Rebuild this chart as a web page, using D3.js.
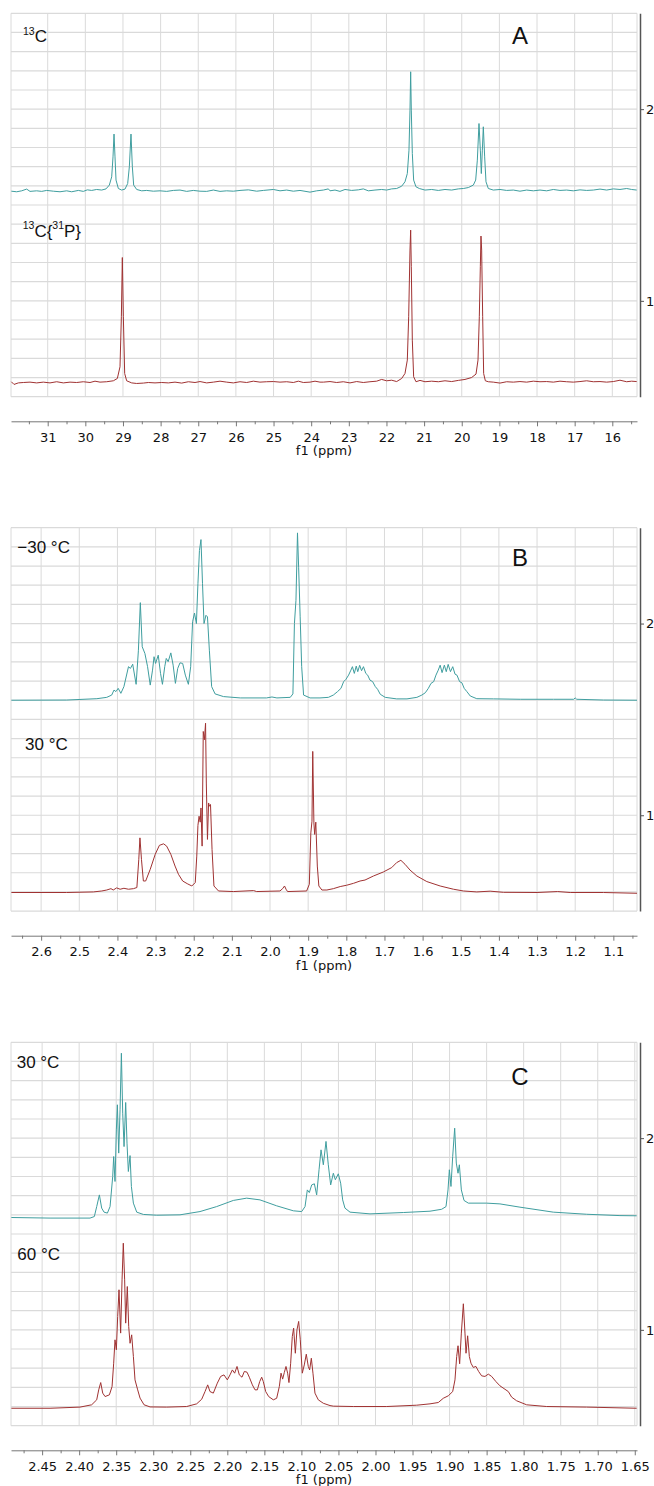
<!DOCTYPE html>
<html>
<head>
<meta charset="utf-8">
<script src="https://cdn.jsdelivr.net/npm/d3@7/dist/d3.min.js"></script>
<style>
  body { margin: 0; background: #fff; }
  svg { display: block; }
</style>
</head>
<body>
<svg id="chart" width="654" height="1486"></svg>
<script>
// ---------- Panel A: 13C and 13C{31P} spectra, [ppm, intensity] ----------
const aTicks = [31, 30, 29, 28, 27, 26, 25, 24, 23, 22, 21, 20, 19, 18, 17, 16];
const aDomain = [31.975, 15.344];

const a13C = [
  [31.966,1.572],[31.824,1.569],[31.691,1.574],[31.559,1.583],[31.470,1.571],[31.293,1.574],
  [31.160,1.571],[31.027,1.576],[30.850,1.572],[30.673,1.569],[30.496,1.574],[30.363,1.569],
  [30.186,1.576],[30.053,1.571],[29.947,1.579],[29.832,1.576],[29.699,1.581],[29.566,1.578],
  [29.451,1.584],[29.362,1.604],[29.300,1.647],[29.265,1.751],[29.238,1.870],[29.212,1.751],
  [29.185,1.630],[29.123,1.586],[29.035,1.578],[28.946,1.583],[28.875,1.612],[28.831,1.699],
  [28.787,1.870],[28.751,1.699],[28.716,1.604],[28.636,1.581],[28.503,1.574],[28.370,1.576],
  [28.193,1.572],[28.016,1.574],[27.839,1.571],[27.662,1.576],[27.485,1.578],[27.308,1.571],
  [27.131,1.576],[26.953,1.572],[26.776,1.571],[26.599,1.578],[26.422,1.571],[26.245,1.574],
  [26.068,1.572],[25.891,1.576],[25.669,1.579],[25.448,1.572],[25.271,1.576],[25.005,1.581],
  [24.828,1.574],[24.651,1.578],[24.474,1.572],[24.297,1.576],[24.031,1.567],[23.854,1.574],
  [23.677,1.578],[23.544,1.584],[23.500,1.574],[23.367,1.578],[23.235,1.571],[23.102,1.581],
  [22.925,1.576],[22.748,1.579],[22.615,1.584],[22.482,1.574],[22.305,1.578],[22.128,1.581],
  [21.995,1.578],[21.862,1.584],[21.729,1.586],[21.596,1.598],[21.508,1.621],[21.446,1.664],
  [21.402,1.786],[21.375,1.995],[21.357,2.195],[21.340,1.995],[21.313,1.769],[21.278,1.630],
  [21.216,1.595],[21.127,1.586],[20.977,1.578],[20.799,1.581],[20.622,1.576],[20.445,1.581],
  [20.268,1.578],[20.091,1.584],[19.958,1.586],[19.825,1.591],[19.692,1.604],[19.630,1.630],
  [19.586,1.734],[19.542,1.925],[19.506,1.786],[19.480,1.664],[19.453,1.786],[19.427,1.908],
  [19.391,1.751],[19.356,1.621],[19.294,1.586],[19.161,1.578],[18.984,1.581],[18.807,1.576],
  [18.630,1.578],[18.453,1.572],[18.275,1.578],[18.098,1.574],[17.921,1.578],[17.744,1.574],
  [17.567,1.581],[17.390,1.576],[17.213,1.578],[17.036,1.574],[16.859,1.579],[16.681,1.576],
  [16.504,1.578],[16.327,1.583],[16.150,1.578],[15.973,1.584],[15.796,1.581],[15.619,1.586],
  [15.486,1.581],[15.353,1.578]
];

const a13C31P = [
  [31.966,0.578],[31.895,0.564],[31.780,0.572],[31.647,0.574],[31.470,0.576],[31.293,0.572],
  [31.116,0.576],[30.939,0.572],[30.762,0.578],[30.584,0.572],[30.407,0.576],[30.230,0.574],
  [30.053,0.578],[29.876,0.574],[29.743,0.581],[29.610,0.576],[29.433,0.578],[29.256,0.583],
  [29.150,0.595],[29.079,0.656],[29.043,0.917],[29.017,1.226],[28.990,0.917],[28.955,0.621],
  [28.902,0.583],[28.769,0.572],[28.636,0.569],[28.459,0.571],[28.326,0.574],[28.149,0.572],
  [27.972,0.574],[27.795,0.572],[27.618,0.576],[27.441,0.571],[27.263,0.578],[27.086,0.574],
  [26.953,0.579],[26.776,0.572],[26.599,0.576],[26.422,0.581],[26.245,0.576],[26.068,0.572],
  [25.891,0.578],[25.714,0.574],[25.537,0.581],[25.360,0.576],[25.182,0.578],[25.005,0.579],
  [24.828,0.576],[24.651,0.578],[24.474,0.574],[24.341,0.581],[24.208,0.574],[24.031,0.576],
  [23.898,0.581],[23.765,0.576],[23.677,0.576],[23.500,0.579],[23.323,0.574],[23.146,0.578],
  [22.969,0.572],[22.792,0.579],[22.615,0.574],[22.438,0.578],[22.261,0.581],[22.128,0.590],
  [21.995,0.583],[21.862,0.586],[21.729,0.579],[21.596,0.595],[21.508,0.621],[21.446,0.691],
  [21.410,0.917],[21.375,1.265],[21.357,1.369],[21.340,1.178],[21.313,0.795],[21.278,0.604],
  [21.216,0.578],[21.109,0.585],[20.976,0.578],[20.799,0.581],[20.622,0.578],[20.445,0.583],
  [20.268,0.579],[20.091,0.585],[19.914,0.590],[19.737,0.600],[19.621,0.618],[19.568,0.691],
  [19.533,0.917],[19.506,1.178],[19.489,1.338],[19.471,1.265],[19.444,0.917],[19.418,0.621],
  [19.373,0.583],[19.294,0.578],[19.161,0.576],[18.984,0.571],[18.807,0.578],[18.630,0.576],
  [18.453,0.579],[18.275,0.576],[18.098,0.581],[17.921,0.578],[17.744,0.579],[17.567,0.576],
  [17.390,0.581],[17.213,0.578],[17.036,0.576],[16.859,0.579],[16.681,0.583],[16.504,0.578],
  [16.327,0.579],[16.150,0.576],[15.973,0.579],[15.796,0.586],[15.619,0.578],[15.486,0.581],
  [15.353,0.579]
];

// ---------- Panel B: 1H spectra at -30 °C and 30 °C ----------
const bTicks = [2.6, 2.5, 2.4, 2.3, 2.2, 2.1, 2.0, 1.9, 1.8, 1.7, 1.6, 1.5, 1.4, 1.3, 1.2, 1.1];
const bDomain = [2.679, 1.038];

const bMinus30 = [
  [2.678,1.600],[2.533,1.601],[2.454,1.608],[2.428,1.615],[2.415,1.627],[2.409,1.653],
  [2.404,1.645],[2.398,1.662],[2.391,1.636],[2.383,1.671],[2.371,1.775],[2.366,1.766],
  [2.360,1.788],[2.351,1.683],[2.345,1.861],[2.340,2.109],[2.335,1.879],[2.328,1.844],
  [2.321,1.775],[2.314,1.679],[2.308,1.757],[2.304,1.827],[2.300,1.792],[2.293,1.835],
  [2.287,1.740],[2.282,1.683],[2.276,1.775],[2.272,1.818],[2.267,1.801],[2.260,1.847],
  [2.254,1.783],[2.248,1.688],[2.242,1.766],[2.236,1.795],[2.229,1.792],[2.222,1.731],
  [2.214,1.683],[2.208,1.775],[2.203,2.009],[2.198,2.055],[2.193,2.000],[2.189,2.208],
  [2.185,2.381],[2.181,2.438],[2.177,2.208],[2.173,2.000],[2.168,2.043],[2.164,2.035],
  [2.159,1.861],[2.153,1.671],[2.144,1.633],[2.122,1.619],[2.078,1.612],[2.009,1.612],
  [1.995,1.617],[1.982,1.612],[1.947,1.615],[1.940,1.633],[1.936,2.000],[1.932,2.121],
  [1.928,2.473],[1.925,2.294],[1.921,2.035],[1.917,1.775],[1.912,1.627],[1.895,1.612],
  [1.869,1.612],[1.847,1.615],[1.834,1.627],[1.823,1.645],[1.814,1.662],[1.807,1.697],
  [1.801,1.709],[1.794,1.731],[1.788,1.757],[1.784,1.775],[1.779,1.740],[1.774,1.778],
  [1.770,1.749],[1.765,1.782],[1.760,1.754],[1.755,1.775],[1.749,1.740],[1.744,1.731],
  [1.738,1.705],[1.731,1.697],[1.724,1.671],[1.718,1.657],[1.711,1.631],[1.698,1.615],
  [1.668,1.607],[1.641,1.607],[1.615,1.615],[1.602,1.627],[1.593,1.639],[1.585,1.662],
  [1.578,1.688],[1.571,1.697],[1.565,1.731],[1.559,1.757],[1.554,1.783],[1.549,1.744],
  [1.543,1.783],[1.538,1.749],[1.533,1.787],[1.527,1.749],[1.521,1.775],[1.515,1.736],
  [1.510,1.731],[1.503,1.697],[1.497,1.691],[1.491,1.662],[1.484,1.645],[1.475,1.622],
  [1.458,1.608],[1.414,1.607],[1.344,1.605],[1.257,1.605],[1.204,1.605],[1.200,1.612],
  [1.196,1.605],[1.126,1.601],[1.038,1.600]
];

const bPlus30 = [
  [2.678,0.597],[2.533,0.597],[2.463,0.600],[2.441,0.605],[2.428,0.610],[2.417,0.617],
  [2.411,0.610],[2.402,0.621],[2.393,0.614],[2.383,0.619],[2.371,0.614],[2.358,0.617],
  [2.349,0.623],[2.344,0.770],[2.341,0.882],[2.337,0.770],[2.332,0.657],[2.326,0.657],
  [2.314,0.718],[2.301,0.796],[2.290,0.843],[2.279,0.851],[2.271,0.839],[2.260,0.796],
  [2.249,0.735],[2.240,0.692],[2.229,0.657],[2.217,0.643],[2.205,0.631],[2.196,0.649],
  [2.192,0.787],[2.189,0.947],[2.186,0.995],[2.183,0.964],[2.181,1.038],[2.178,0.839],
  [2.175,1.437],[2.172,1.394],[2.169,1.480],[2.167,1.168],[2.164,0.874],[2.161,1.064],
  [2.159,1.047],[2.156,1.056],[2.152,0.822],[2.147,0.631],[2.135,0.605],[2.096,0.602],
  [2.043,0.607],[2.035,0.602],[1.974,0.605],[1.967,0.617],[1.962,0.631],[1.958,0.614],
  [1.954,0.602],[1.904,0.605],[1.897,0.640],[1.893,0.908],[1.890,0.969],[1.888,1.333],
  [1.885,0.960],[1.883,0.900],[1.880,0.964],[1.876,0.735],[1.872,0.631],[1.864,0.610],
  [1.851,0.610],[1.834,0.617],[1.816,0.628],[1.799,0.635],[1.781,0.645],[1.764,0.657],
  [1.751,0.662],[1.729,0.683],[1.703,0.704],[1.681,0.727],[1.668,0.753],[1.657,0.765],
  [1.646,0.744],[1.633,0.714],[1.615,0.683],[1.589,0.654],[1.554,0.631],[1.519,0.614],
  [1.493,0.605],[1.458,0.600],[1.423,0.604],[1.388,0.598],[1.300,0.597],[1.246,0.602],
  [1.213,0.597],[1.126,0.597],[1.038,0.593]
];

// ---------- Panel C: 1H spectra at 30 °C and 60 °C ----------
const cTicks = [2.45, 2.40, 2.35, 2.30, 2.25, 2.20, 2.15, 2.10, 2.05, 2.00, 1.95, 1.90, 1.85, 1.80, 1.75, 1.70, 1.65];
const cDomain = [2.492, 1.647];

const c30 = [
  [2.4915,1.586],[2.4393,1.583],[2.3853,1.583],[2.3795,1.591],[2.3763,1.643],[2.3727,1.704],
  [2.3696,1.635],[2.3664,1.614],[2.3619,1.609],[2.3583,1.643],[2.3547,1.800],[2.3534,1.904],
  [2.3516,1.774],[2.3498,2.043],[2.3484,2.174],[2.3466,1.922],[2.3448,2.148],[2.3430,2.443],
  [2.3412,2.130],[2.3394,1.956],[2.3372,2.186],[2.3354,1.974],[2.3336,1.826],[2.3313,1.909],
  [2.3295,1.748],[2.3268,1.661],[2.3223,1.614],[2.3133,1.602],[2.2953,1.598],[2.2639,1.600],
  [2.2369,1.617],[2.2144,1.643],[2.1919,1.675],[2.1739,1.687],[2.1559,1.678],[2.1334,1.647],
  [2.1109,1.621],[2.0996,1.617],[2.0951,1.643],[2.0920,1.730],[2.0893,1.716],[2.0861,1.756],
  [2.0825,1.762],[2.0794,1.704],[2.0762,1.835],[2.0735,1.939],[2.0704,1.861],[2.0668,1.983],
  [2.0637,1.861],[2.0605,1.756],[2.0569,1.817],[2.0542,1.783],[2.0502,1.814],[2.0470,1.765],
  [2.0443,1.678],[2.0412,1.635],[2.0344,1.614],[2.0074,1.605],[1.9624,1.612],[1.9264,1.619],
  [1.9107,1.629],[1.9048,1.643],[1.9021,1.730],[1.9003,1.835],[1.8981,1.748],[1.8958,1.904],
  [1.8931,2.052],[1.8909,1.870],[1.8886,1.817],[1.8868,1.861],[1.8841,1.730],[1.8805,1.675],
  [1.8747,1.661],[1.8500,1.661],[1.8320,1.657],[1.8050,1.640],[1.7600,1.614],[1.7150,1.603],
  [1.6700,1.596],[1.6475,1.595]
];

const c60 = [
  [2.4915,0.591],[2.4393,0.591],[2.3988,0.597],[2.3831,0.609],[2.3763,0.635],[2.3736,0.687],
  [2.3709,0.725],[2.3682,0.670],[2.3650,0.652],[2.3592,0.661],[2.3556,0.704],[2.3534,0.826],
  [2.3516,0.948],[2.3498,0.896],[2.3480,1.070],[2.3462,1.209],[2.3440,0.983],[2.3421,1.261],
  [2.3404,1.452],[2.3386,1.261],[2.3372,1.035],[2.3350,1.226],[2.3331,1.017],[2.3313,0.930],
  [2.3291,0.974],[2.3268,0.861],[2.3246,0.739],[2.3210,0.687],[2.3178,0.644],[2.3124,0.609],
  [2.3043,0.598],[2.2818,0.597],[2.2549,0.600],[2.2414,0.614],[2.2346,0.638],[2.2301,0.678],
  [2.2265,0.713],[2.2234,0.678],[2.2189,0.670],[2.2135,0.722],[2.2090,0.757],[2.2045,0.765],
  [2.2000,0.739],[2.1964,0.765],[2.1932,0.791],[2.1901,0.774],[2.1869,0.809],[2.1838,0.765],
  [2.1802,0.753],[2.1770,0.783],[2.1734,0.779],[2.1703,0.753],[2.1662,0.713],[2.1626,0.687],
  [2.1595,0.687],[2.1563,0.730],[2.1536,0.753],[2.1514,0.730],[2.1482,0.678],[2.1442,0.652],
  [2.1379,0.635],[2.1334,0.643],[2.1298,0.704],[2.1275,0.774],[2.1253,0.743],[2.1231,0.777],
  [2.1208,0.809],[2.1186,0.774],[2.1168,0.725],[2.1145,0.826],[2.1123,0.965],[2.1105,1.009],
  [2.1082,0.878],[2.1060,1.000],[2.1037,1.044],[2.1015,0.948],[2.0988,0.774],[2.0961,0.817],
  [2.0934,0.873],[2.0907,0.809],[2.0889,0.791],[2.0866,0.852],[2.0844,0.774],[2.0817,0.670],
  [2.0772,0.635],[2.0704,0.617],[2.0614,0.605],[2.0569,0.602],[2.0299,0.600],[1.9849,0.600],
  [1.9444,0.607],[1.9264,0.614],[1.9152,0.621],[1.9085,0.643],[1.9017,0.656],[1.8958,0.678],
  [1.8927,0.739],[1.8904,0.861],[1.8886,0.917],[1.8864,0.823],[1.8841,0.983],[1.8814,1.136],
  [1.8792,0.983],[1.8778,0.878],[1.8756,0.969],[1.8733,0.861],[1.8711,0.826],[1.8680,0.804],
  [1.8644,0.809],[1.8608,0.783],[1.8567,0.760],[1.8522,0.757],[1.8477,0.769],[1.8432,0.757],
  [1.8374,0.730],[1.8320,0.708],[1.8252,0.690],[1.8207,0.678],[1.8162,0.649],[1.8095,0.630],
  [1.7960,0.609],[1.7690,0.600],[1.7150,0.597],[1.6475,0.591]
];

// intensity axis shared by every panel
const yTicks = [1, 2];
const yDomain = [0.5, 2.5];

// ---------- drawing ----------
const svg = d3.select('#chart');
const teal = '#3f9e9f';
const red = '#a03232';
const plotLeft = 11, plotRight = 637, plotH = 383.4, rightAxisX = 640;
const sansFont = 'Liberation Sans, Arial, Helvetica, sans-serif';
const tickFont = 'DejaVu Sans, Verdana, sans-serif';

function minorTicks(major, domain) {
  const step = major[0] - major[1];
  const lo = Math.min(...domain), hi = Math.max(...domain);
  const out = [];
  const first = major[0] + step / 2;
  for (let v = first; v >= lo - 1e-9; v -= step) if (v <= hi) out.push(v);
  return out;
}

function drawPanel(cfg) {
  const top = cfg.top, bottom = top + plotH;
  const g = svg.append('g');
  const x = d3.scaleLinear().domain(cfg.domain).range([plotLeft, plotRight]);
  const y = d3.scaleLinear().domain(yDomain).range([bottom, top]);

  // grid
  g.append('g').selectAll('line').data(y.ticks(20)).join('line')
    .attr('x1', plotLeft).attr('x2', plotRight)
    .attr('y1', d => y(d)).attr('y2', d => y(d))
    .attr('stroke', '#dadada').attr('stroke-width', 1.2);
  g.append('g').selectAll('line').data(cfg.ticks.concat(cfg.domain)).join('line')
    .attr('x1', d => x(d)).attr('x2', d => x(d))
    .attr('y1', top).attr('y2', bottom)
    .attr('stroke', '#dadada').attr('stroke-width', 1);

  // spectra
  const line = d3.line().x(d => x(d[0])).y(d => y(d[1]));
  cfg.series.forEach(s => {
    g.append('path').datum(s.data)
      .attr('d', line)
      .attr('fill', 'none')
      .attr('stroke', s.color)
      .attr('stroke-width', 1)
      .attr('stroke-linejoin', 'round');
  });

  // bottom ppm axis
  const axisY = top + 408;
  const ax = g.append('g').attr('transform', `translate(0,${axisY})`)
    .call(d3.axisBottom(x).tickValues(cfg.ticks).tickFormat(cfg.fmt)
      .tickSize(5).tickPadding(6).tickSizeOuter(0));
  ax.select('.domain').attr('stroke', '#777');
  ax.selectAll('.tick line').attr('stroke', '#777');
  ax.selectAll('text').attr('font-family', tickFont).attr('font-size', 13).attr('fill', '#111');

  const mx = g.append('g').attr('transform', `translate(0,${axisY})`)
    .call(d3.axisBottom(x).tickValues(minorTicks(cfg.ticks, cfg.domain))
      .tickFormat('').tickSize(3).tickSizeOuter(0));
  mx.select('.domain').remove();
  mx.selectAll('.tick line').attr('stroke', '#777');

  g.append('text')
    .attr('x', (plotLeft + plotRight) / 2).attr('y', axisY + 34)
    .attr('text-anchor', 'middle')
    .attr('font-family', tickFont).attr('font-size', 13).attr('fill', '#111')
    .text('f1 (ppm)');

  // right intensity axis
  const ay = g.append('g').attr('transform', `translate(${rightAxisX},0)`)
    .call(d3.axisRight(y).tickValues(yTicks).tickFormat(d3.format('d'))
      .tickSize(4).tickPadding(2).tickSizeOuter(0));
  ay.select('.domain').attr('stroke', '#555').attr('stroke-width', 1.5);
  ay.selectAll('.tick line').attr('stroke', '#555');
  ay.selectAll('text').attr('font-family', tickFont).attr('font-size', 13).attr('fill', '#111');

  // panel letter
  g.append('text')
    .attr('x', 520).attr('y', cfg.letterY)
    .attr('text-anchor', 'middle')
    .attr('font-family', sansFont).attr('font-size', 24).attr('fill', '#111')
    .text(cfg.letter);

  // series labels
  cfg.labels.forEach(lb => {
    const t = g.append('text').attr('x', lb.x).attr('y', lb.y)
      .attr('font-family', sansFont).attr('font-size', 17).attr('fill', '#111');
    lb.parts.forEach(p => {
      t.append('tspan')
        .attr('font-size', p.sup ? 10.5 : 17)
        .attr('dy', p.dy || 0)
        .text(p.t);
    });
  });
}

drawPanel({
  top: 13.3, domain: aDomain, ticks: aTicks, fmt: d3.format('d'),
  letter: 'A', letterY: 44.3,
  series: [{ data: a13C, color: teal }, { data: a13C31P, color: red }],
  labels: [
    { x: 23, y: 42, parts: [{ t: '13', sup: true, dy: -7 }, { t: 'C', dy: 7 }] },
    { x: 22.7, y: 237.3, parts: [
      { t: '13', sup: true, dy: -8 }, { t: 'C{', dy: 8 },
      { t: '31', sup: true, dy: -8 }, { t: 'P}', dy: 8 }] }
  ]
});

drawPanel({
  top: 527.7, domain: bDomain, ticks: bTicks, fmt: d3.format('.1f'),
  letter: 'B', letterY: 565.7,
  series: [{ data: bMinus30, color: teal }, { data: bPlus30, color: red }],
  labels: [
    { x: 17.3, y: 552.7, parts: [{ t: '\u221230 \u00B0C' }] },
    { x: 25, y: 750, parts: [{ t: '30 \u00B0C' }] }
  ]
});

drawPanel({
  top: 1042.3, domain: cDomain, ticks: cTicks, fmt: d3.format('.2f'),
  letter: 'C', letterY: 1085,
  series: [{ data: c30, color: teal }, { data: c60, color: red }],
  labels: [
    { x: 16.7, y: 1067.7, parts: [{ t: '30 \u00B0C' }] },
    { x: 17.3, y: 1260, parts: [{ t: '60 \u00B0C' }] }
  ]
});
</script>
</body>
</html>
